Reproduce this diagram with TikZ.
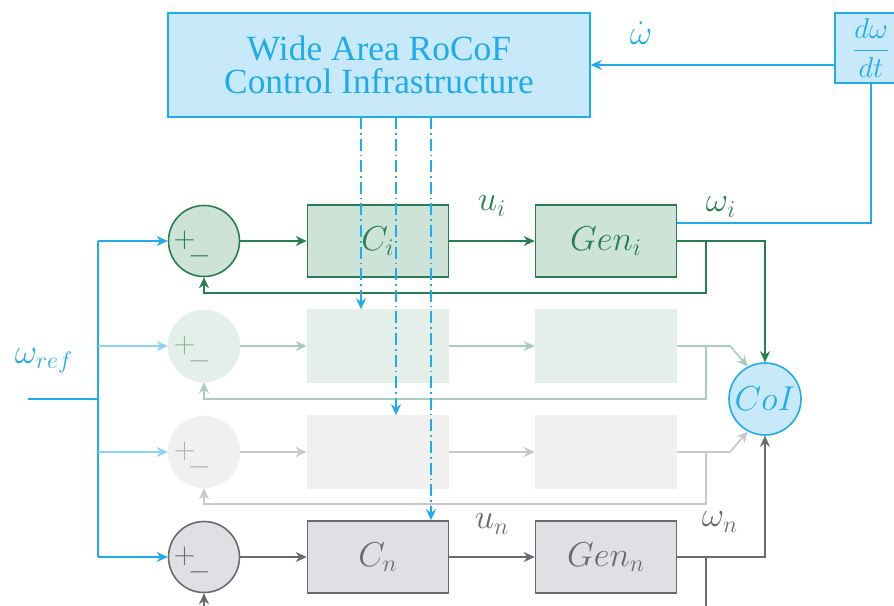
\documentclass[tikz,border=0pt]{standalone}
\usepackage{fontspec}
\setmainfont{Liberation Serif}
\usetikzlibrary{arrows.meta,calc}
\definecolor{bl}{RGB}{30,172,235}
\definecolor{blfill}{RGB}{200,233,250}
\definecolor{blfade}{RGB}{140,212,245}
\definecolor{gr}{RGB}{40,125,82}
\definecolor{grfill}{RGB}{205,227,215}
\definecolor{grfade}{RGB}{168,205,186}
\definecolor{grfadefill}{RGB}{228,239,234}
\definecolor{grfadetxt}{RGB}{135,182,155}
\definecolor{gy}{RGB}{105,105,112}
\definecolor{gyfill}{RGB}{224,224,228}
\definecolor{gyfade}{RGB}{200,200,202}
\definecolor{gyfadefill}{RGB}{240,240,240}
\definecolor{gyfadetxt}{RGB}{175,175,178}
\newcommand{\plusminus}{$+$\hspace{-3.7pt}\raisebox{-8pt}{$-$}}
\begin{document}
\begin{tikzpicture}[x=0.5pt,y=-0.5pt,
  mfont/.style={font=\fontsize{16.5}{19}\selectfont},
  blk/.style={draw, minimum width=70.5pt, minimum height=36pt, inner sep=0pt, line width=0.8pt, mfont},
  sumc/.style={circle, draw, minimum size=35.5pt, inner sep=0pt, line width=0.8pt},
  pm/.style={inner sep=0pt, font=\fontsize{15}{18}\selectfont},
  arr/.style={-{Stealth[length=5.5pt,width=5pt,inset=1.8pt]}},
  ln/.style={line width=0.8pt},
  dd/.style={dash pattern=on 6pt off 2pt on 0.8pt off 2pt, line width=0.8pt}
]
\useasboundingbox (0,0) rectangle (894,605);
\clip (0,0) rectangle (894,605);

% top blocks
\node[draw=bl, fill=blfill, text=bl, line width=0.8pt, minimum width=211pt, minimum height=52pt,
  align=center, font=\fontsize{17.7}{16.5}\selectfont] (wac) at (379,65) {Wide Area RoCoF\\Control Infrastructure};
\node[draw=bl, fill=blfill, text=bl, line width=0.8pt, minimum width=36pt, minimum height=35pt, inner sep=0pt,
  font=\fontsize{13.5}{15}\selectfont] (dw) at (871,48) {$\displaystyle\frac{d\omega}{dt}$};

% row 1 (i)
\node[sumc, draw=gr, fill=grfill] (s1) at (204,241) {};
\node[pm, text=gr] (pm1) at (192,248) {\plusminus};
\node[blk, draw=gr, fill=grfill, text=gr] (c1) at (378,241) {$C_i$};
\node[blk, draw=gr, fill=grfill, text=gr] (g1) at (606,241) {$Gen_i$};
% row 2
\node[sumc, draw=grfadefill, fill=grfadefill] (s2) at (204,346) {};
\node[pm, text=grfadetxt] (pm2) at (192,353) {\plusminus};
\node[blk, draw=grfadefill, fill=grfadefill] (c2) at (378,346) {};
\node[blk, draw=grfadefill, fill=grfadefill] (g2) at (606,346) {};
% row 3
\node[sumc, draw=gyfadefill, fill=gyfadefill] (s3) at (204,452) {};
\node[pm, text=gyfadetxt] (pm3) at (192,459) {\plusminus};
\node[blk, draw=gyfadefill, fill=gyfadefill] (c3) at (378,452) {};
\node[blk, draw=gyfadefill, fill=gyfadefill] (g3) at (606,452) {};
% row 4 (n)
\node[sumc, draw=gy, fill=gyfill] (s4) at (204,557) {};
\node[pm, text=gy] (pm4) at (192,564) {\plusminus};
\node[blk, draw=gy, fill=gyfill, text=gy] (c4) at (378,557) {$C_n$};
\node[blk, draw=gy, fill=gyfill, text=gy] (g4) at (606,557) {$Gen_n$};

% CoI
\node[circle, draw=bl, fill=blfill, text=bl, minimum size=36pt, inner sep=0pt, line width=0.8pt,
  font=\fontsize{17}{20}\selectfont] (coi) at (765,399) {$CoI$};

% reference input
\coordinate (refin) at (28,399);
\coordinate (bus) at (98,399);
\coordinate (busT) at (98,241);
\coordinate (busB) at (98,557);
\draw[ln, bl] (refin) -- (bus);
\draw[ln, bl] (busT) -- (busB);
\draw[ln, bl, arr] (busT) -- (s1.west);
\draw[ln, blfade, arr] (bus |- s2.west) -- (s2.west);
\draw[ln, blfade, arr] (bus |- s3.west) -- (s3.west);
\draw[ln, bl, arr] (busB) -- (s4.west);
\node[text=bl, font=\fontsize{18}{20}\selectfont] (wref) at (44,361) {$\omega_{ref}$};

% row 1 connectors
\draw[ln, gr, arr] (s1.east) -- (c1.west);
\draw[ln, gr, arr] (c1.east) -- (g1.west);
\node[mfont, text=gr] (ui) at (492,206) {$u_i$};
\coordinate (o1) at (765,241);
\coordinate (f1) at (706,241);
\draw[ln, gr, arr] (g1.east) -- (o1) -- (coi.north);
\draw[ln, gr, arr] (f1) -- (706,293) -- (s1.south |- 0,293) -- (s1.south);
\node[mfont, text=gr] (wi) at (721,207) {$\omega_i$};

% row 2 connectors
\draw[ln, grfade, arr] (s2.east) -- (c2.west);
\draw[ln, grfade, arr] (c2.east) -- (g2.west);
\draw[ln, grfade, arr] (g2.east) -- (730,346) -- (coi.118);
\draw[ln, grfade, arr] (706,346) -- (706,399) -- (204,399) -- (s2.south);

% row 3 connectors
\draw[ln, gyfade, arr] (s3.east) -- (c3.west);
\draw[ln, gyfade, arr] (c3.east) -- (g3.west);
\draw[ln, gyfade, arr] (g3.east) -- (730,452) -- (coi.242);
\draw[ln, gyfade, arr] (706,452) -- (706,504) -- (204,504) -- (s3.south);

% row 4 connectors
\draw[ln, gy, arr] (s4.east) -- (c4.west);
\draw[ln, gy, arr] (c4.east) -- (g4.west);
\node[mfont, text=gy] (un) at (492,524) {$u_n$};
\draw[ln, gy, arr] (g4.east) -- (765,557) -- (coi.south);
\draw[ln, gy] (706,557) -- (706,640);
\draw[ln, gy, arr] (204,640) -- (s4.south);
\node[mfont, text=gy] (wn) at (720,522) {$\omega_n$};

% derivative feedback
\draw[ln, bl, arr] (wac.east -| dw.west) -- (wac.east);
\node[mfont, text=bl] (wdot) at (641,33) {$\dot\omega$};
\draw[ln, bl] (dw.south) -- (871,223) -- (g1.east |- 0,223);

% dash-dot command lines
\draw[dd, bl, arr] (361,117) -- (c2.north -| 361,0);
\draw[dd, bl, arr] (396,117) -- (c3.north -| 396,0);
\draw[dd, bl, arr] (431,117) -- (c4.north -| 431,0);
\end{tikzpicture}
\end{document}
